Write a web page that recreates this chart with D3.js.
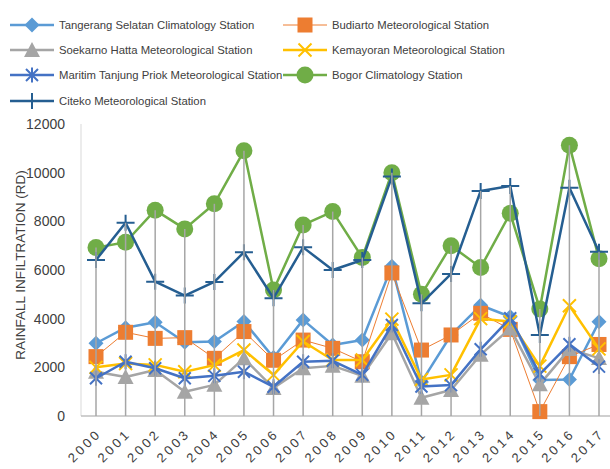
<!DOCTYPE html>
<html>
<head>
<meta charset="utf-8">
<script src="https://cdn.jsdelivr.net/npm/d3@7"></script>
<style>
  html, body { margin: 0; padding: 0; background: #fff; }
  svg { display: block; }
</style>
</head>
<body>
<svg id="chart" width="610" height="469"></svg>
<script>
// years on the x axis
var years = ["2000","2001","2002","2003","2004","2005","2006","2007","2008",
             "2009","2010","2011","2012","2013","2014","2015","2016","2017"];

// rainfall infiltration (RD) per station
var tangerang = [2990, 3630, 3850, 3030, 3060, 3880, 2400, 3950, 2920, 3120, 6150, 1400, 3330, 4550, 4080, 1480, 1500, 3870];
var budiarto  = [2440, 3440, 3190, 3220, 2370, 3470, 2290, 3120, 2780, 2230, 5880, 2710, 3330, 4220, 3560, 180, 2440, 2940];
var soekarno  = [1820, 1600, 1890, 1000, 1280, 2370, 1150, 1960, 2060, 1650, 3400, 750, 1070, 2520, 3600, 1300, 2750, 2380];
var kemayoran = [2000, 2160, 2100, 1820, 2090, 2710, 1690, 3060, 2300, 2300, 3980, 1500, 1690, 4000, 3880, 2050, 4530, 2760];
var maritim   = [1550, 2230, 1960, 1550, 1650, 1820, 1200, 2230, 2270, 1690, 3740, 1210, 1270, 2740, 4020, 1720, 2950, 2030];
var bogor     = [6920, 7140, 8460, 7690, 8720, 10900, 5180, 7850, 8400, 6510, 10000, 5000, 7000, 6100, 8330, 4400, 11130, 6460];
var citeko    = [6410, 7940, 5520, 4950, 5510, 6730, 4840, 6930, 6000, 6410, 9840, 4630, 5840, 9250, 9450, 3330, 9380, 6750];

var yTicks = [0, 2000, 4000, 6000, 8000, 10000, 12000];

var series = [
  { name: "Tangerang Selatan Climatology Station", values: tangerang, color: "#5B9BD5", width: 2.5, marker: "diamond" },
  { name: "Budiarto Meteorological Station", values: budiarto, color: "#ED7D31", width: 1, marker: "square" },
  { name: "Soekarno Hatta Meteorological Station", values: soekarno, color: "#A5A5A5", width: 2.5, marker: "triangle" },
  { name: "Kemayoran Meteorological Station", values: kemayoran, color: "#FFC000", width: 2.5, marker: "x" },
  { name: "Maritim Tanjung Priok Meteorological Station", values: maritim, color: "#4472C4", width: 2.5, marker: "star" },
  { name: "Bogor Climatology Station", values: bogor, color: "#70AD47", width: 2.5, marker: "circle" },
  { name: "Citeko Meteorological Station", values: citeko, color: "#255E91", width: 2.5, marker: "plus" }
];

var svg = d3.select("#chart");
var font = "'Liberation Sans', Arial, sans-serif";
var textColor = "#404040";

var x = d3.scalePoint().domain(years).range([96, 599]);
var y = d3.scaleLinear().domain([0, 12000]).range([416, 124]);

// axis lines
svg.append("line")
    .attr("x1", 81).attr("x2", 81).attr("y1", 124).attr("y2", 416)
    .attr("stroke", "#d9d9d9").attr("stroke-width", 1);

svg.append("line")
    .attr("x1", 81).attr("x2", 610).attr("y1", 416).attr("y2", 416)
    .attr("stroke", "#bfbfbf").attr("stroke-width", 1.5);

// y tick labels
svg.append("g")
    .selectAll("text")
    .data(yTicks)
    .enter().append("text")
    .attr("x", 65)
    .attr("y", function (d) { return y(d); })
    .attr("dy", "0.35em")
    .attr("text-anchor", "end")
    .attr("font-family", font)
    .attr("font-size", 14)
    .attr("fill", textColor)
    .text(function (d) { return d; });

// y axis title
svg.append("text")
    .attr("transform", "translate(20,265) rotate(-90)")
    .attr("text-anchor", "middle")
    .attr("dy", "0.35em")
    .attr("font-family", font)
    .attr("font-size", 13.5)
    .attr("fill", textColor)
    .text("RAINFALL INFILTRATION (RD)");

// x tick labels (rotated)
svg.append("g")
    .selectAll("text")
    .data(years)
    .enter().append("text")
    .attr("transform", function (d) { return "translate(" + (x(d) + 3) + ",431) rotate(-45)"; })
    .attr("text-anchor", "end")
    .attr("dy", "0.35em")
    .attr("font-family", font)
    .attr("font-size", 13)
    .attr("letter-spacing", 3)
    .attr("fill", textColor)
    .text(function (d) { return d; });

// marker drawing
function drawMarker(g, type, color) {
    if (type === "diamond") {
        g.append("path").attr("d", "M0,-7.5L7.5,0L0,7.5L-7.5,0Z").attr("fill", color);
    } else if (type === "square") {
        g.append("rect").attr("x", -7.5).attr("y", -7.5).attr("width", 15).attr("height", 15).attr("fill", color);
    } else if (type === "triangle") {
        g.append("path").attr("d", "M0,-8L8,7L-8,7Z").attr("fill", color);
    } else if (type === "circle") {
        g.append("circle").attr("r", 8.5).attr("fill", color);
    } else if (type === "x") {
        g.append("path").attr("d", "M-6.5,-6.5L6.5,6.5M-6.5,6.5L6.5,-6.5")
            .attr("stroke", color).attr("stroke-width", 2).attr("fill", "none");
    } else if (type === "star") {
        g.append("path").attr("d", "M-6,-6L6,6M-6,6L6,-6M0,-7.5L0,7.5")
            .attr("stroke", color).attr("stroke-width", 2).attr("fill", "none");
    } else if (type === "plus") {
        g.append("path").attr("d", "M-9,0L9,0M0,-8L0,8")
            .attr("stroke", color).attr("stroke-width", 2).attr("fill", "none");
    }
}

var line = d3.line()
    .x(function (d, i) { return x(years[i]); })
    .y(function (d) { return y(d); });

// series lines and markers
series.forEach(function (s) {
    var g = svg.append("g").attr("class", "series");
    g.append("path")
        .datum(s.values)
        .attr("d", line)
        .attr("fill", "none")
        .attr("stroke", s.color)
        .attr("stroke-width", s.width)
        .attr("stroke-linejoin", "round");
    g.selectAll("g.marker")
        .data(s.values)
        .enter().append("g")
        .attr("class", "marker")
        .attr("transform", function (d, i) { return "translate(" + x(years[i]) + "," + y(d) + ")"; })
        .each(function () { drawMarker(d3.select(this), s.marker, s.color); });
});

// drop lines from the highest point of each year down to the axis
var maxima = years.map(function (yr, i) {
    return d3.max(series, function (s) { return s.values[i]; });
});

svg.append("g")
    .selectAll("line")
    .data(maxima)
    .enter().append("line")
    .attr("x1", function (d, i) { return x(years[i]); })
    .attr("x2", function (d, i) { return x(years[i]); })
    .attr("y1", function (d) { return y(d); })
    .attr("y2", 416)
    .attr("stroke", "#a6a6a6")
    .attr("stroke-width", 1.5);

// legend
var legendPos = [
  [10, 25], [283, 25],
  [10, 50], [283, 50],
  [10, 75], [283, 75],
  [10, 101]
];

var legend = svg.append("g")
    .selectAll("g")
    .data(series)
    .enter().append("g")
    .attr("transform", function (d, i) { return "translate(" + legendPos[i][0] + "," + legendPos[i][1] + ")"; });

legend.append("line")
    .attr("x1", 0).attr("x2", 44).attr("y1", 0).attr("y2", 0)
    .attr("stroke", function (d) { return d.color; })
    .attr("stroke-width", function (d) { return d.width; });

legend.append("g")
    .attr("transform", "translate(22,0)")
    .each(function (d) { drawMarker(d3.select(this), d.marker, d.color); });

legend.append("text")
    .attr("x", 49)
    .attr("y", 0)
    .attr("dy", "0.35em")
    .attr("font-family", font)
    .attr("font-size", 11.3)
    .attr("fill", textColor)
    .text(function (d) { return d.name; });
</script>
</body>
</html>
